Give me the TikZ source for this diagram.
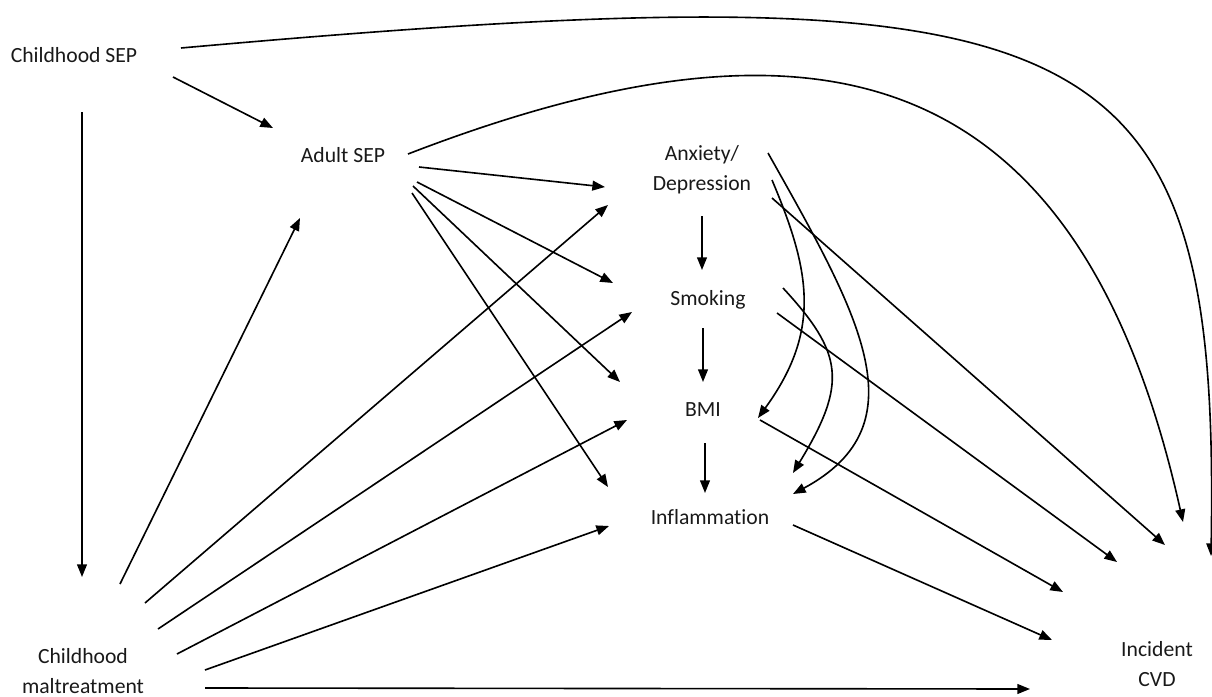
\documentclass[tikz,border=0pt]{standalone}
\usepackage{fontspec}
\setmainfont{Carlito}[Ligatures=NoCommon]
\usetikzlibrary{calc,arrows.meta}

\begin{document}
\begin{tikzpicture}[x=.025cm,y=-.025cm,line width=1.15pt,>={Triangle[length=9pt,width=7pt]},
    every node/.style={font=\fontsize{15.4}{21.5}\selectfont,align=center,inner sep=0pt,text=black!90}]
      \useasboundingbox (0,0) rectangle (1212,697);

      \node (csep) at (74,55) {Childhood SEP};
      \node (asep) at (343,155) {Adult SEP};
      \node (anx) at (702,170) {Anxiety/\\Depression};
      \node (smk) at (708,300) {Smoking};
      \node (bmi) at (703,410) {BMI};
      \node (inf) at (710,517) {Inflammation};
      \node (cm) at (83,671) {Childhood\\maltreatment};
      \node (cvd) at (1157,664) {Incident\\CVD};

      \draw[->] ($(csep)+(99,22)$) -- ($(asep)+(-70,-27)$);
      \draw[->] ($(csep)+(8,57)$) -- ($(cm)+(-1,-94)$);
      \draw[->] ($(csep)+(107,-7)$) .. controls +(919,-82) and +(9,-536) .. ($(cvd)+(54,-108)$);

      \draw[->] ($(asep)+(65,-1)$) .. controls +(412,-159) and +(-103,-462) .. ($(cvd)+(26,-142)$);
      \draw[->] ($(asep)+(76,12)$) -- ($(anx)+(-97,17)$);
      \draw[->] ($(asep)+(74,27)$) -- ($(smk)+(-95,-17)$);
      \draw[->] ($(asep)+(70,31)$) -- ($(bmi)+(-83,-28)$);
      \draw[->] ($(asep)+(69,38)$) -- ($(inf)+(-102,-30)$);

      \draw[->] ($(cm)+(37,-87)$) -- ($(asep)+(-43,63)$);
      \draw[->] ($(cm)+(62,-68)$) -- ($(anx)+(-94,35)$);
      \draw[->] ($(cm)+(75,-42)$) -- ($(smk)+(-76,12)$);
      \draw[->] ($(cm)+(94,-17)$) -- ($(bmi)+(-76,10)$);
      \draw[->] ($(cm)+(122,-1)$) -- ($(inf)+(-101,9)$);
      \draw[->] ($(cm)+(122,17)$) -- ($(cvd)+(-127,25)$);

      \draw[->] ($(anx)+(0,46)$) -- ($(smk)+(-6,-30)$);
      \draw[->] ($(smk)+(-5,28)$) -- ($(bmi)+(0,-28)$);
      \draw[->] ($(bmi)+(2,33)$) -- ($(inf)+(-5,-24)$);

      \draw[->] ($(anx)+(70,28)$) -- ($(cvd)+(8,-119)$);
      \draw[->] ($(smk)+(69,13)$) -- ($(cvd)+(-40,-102)$);
      \draw[->] ($(bmi)+(57,10)$) -- ($(cvd)+(-94,-72)$);
      \draw[->] ($(inf)+(83,8)$) -- ($(cvd)+(-105,-24)$);

      \draw[->] ($(anx)+(70,10)$) .. controls +(38,90) and +(64,-88) .. ($(bmi)+(55,8)$);
      \draw[->] ($(smk)+(75,-12)$) .. controls +(60,65) and +(55,-90) .. ($(inf)+(83,-44)$);
      \draw[->] ($(anx)+(66,-17)$) .. controls +(90,160) and +(130,-70) .. ($(inf)+(83,-23)$);

    \end{tikzpicture}
\end{document}
